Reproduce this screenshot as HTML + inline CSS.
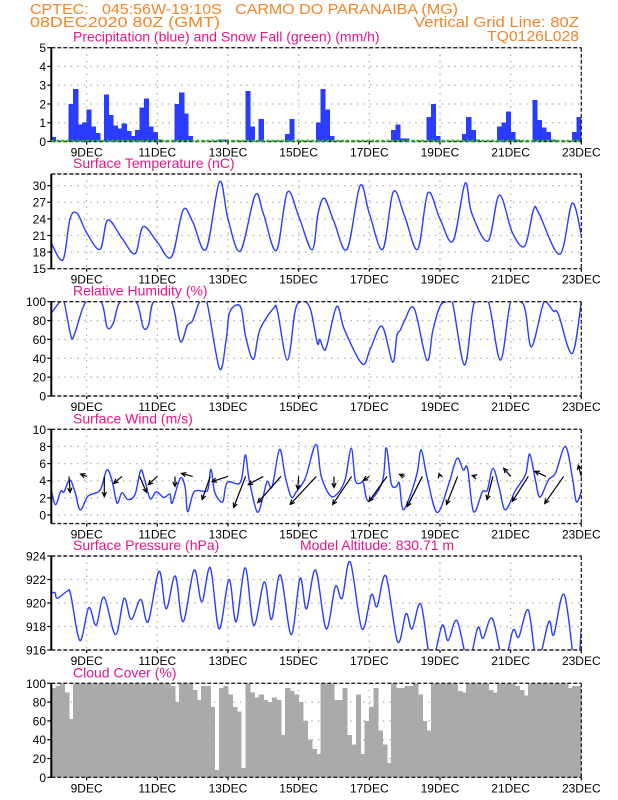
<!DOCTYPE html>
<html><head><meta charset="utf-8"><title>Meteogram</title>
<style>
html,body{margin:0;padding:0;background:#fff;width:618px;height:800px;overflow:hidden}
svg text{font-family:"Liberation Sans",sans-serif}
.pre{white-space:pre}
</style></head>
<body>
<svg id="chart" width="618" height="800" viewBox="0 0 618 800" xmlns="http://www.w3.org/2000/svg">
<g fill="#f0862a" font-size="15">
<text class="pre" x="30" y="14" textLength="428" lengthAdjust="spacingAndGlyphs">CPTEC:   045:56W-19:10S   CARMO DO PARANAIBA (MG)</text>
<text x="30" y="27" textLength="190" lengthAdjust="spacingAndGlyphs">08DEC2020 80Z (GMT)</text>
<text x="579" y="27" text-anchor="end" textLength="165" lengthAdjust="spacingAndGlyphs">Vertical Grid Line: 80Z</text>
<text x="579" y="41" text-anchor="end" textLength="92" lengthAdjust="spacingAndGlyphs">TQ0126L028</text>
</g>
<g id="panels"></g>
</svg>
<script>
// ---------------- data ----------------
const dateLabels = ["9DEC","11DEC","13DEC","15DEC","17DEC","19DEC","21DEC","23DEC"];
const dateTimes = [1,3,5,7,9,11,13,15];

const precipValues = [0.25,0,0,0,2.0,2.8,0.9,1.0,1.7,0.8,0.45,0,2.5,1.4,0.85,0.7,0.95,0.55,0.3,0.6,1.8,2.3,0.8,0.5,0.1,0,0,0,2.0,2.6,1.5,0.3,0,0,0,0,0,0,0.1,0.1,0,0,0,0,2.7,0.8,0,1.2,0,0,0,0,0,0.4,1.2,0,0,0,0,0,1.0,2.8,1.7,0.3,0,0,0,0,0,0,0,0,0,0,0,0,0,0.6,0.9,0.15,0.15,0,0,0,0,1.3,2.0,0.3,0,0,0,0,0,0.4,1.3,0.6,0.1,0,0,0,0,0.8,1.0,1.6,0.5,0.1,0,0,0,2.2,1.15,0.75,0.5,0.1,0.05,0,0,0,0.5,1.3];

const cloudValues = [95,97,100,90,62,100,100,100,100,100,100,100,100,100,100,100,100,100,100,100,100,100,100,100,100,100,100,97,80,100,100,100,93,82,97,97,75,8,95,97,88,75,70,10,100,90,85,88,82,80,85,82,45,95,92,88,80,60,40,30,25,100,100,100,82,82,95,45,35,88,25,60,75,95,50,35,15,100,95,95,97,97,100,88,60,50,100,100,100,100,100,100,92,90,100,100,100,100,100,93,90,100,100,100,100,97,93,87,100,100,100,100,100,100,100,100,100,95,97,97];

const tempT = [0,0.33,0.53,0.73,1.0,1.38,1.6,2.0,2.37,2.6,3.0,3.4,3.73,4.0,4.38,4.76,5.0,5.35,5.77,6.0,6.37,6.68,7.0,7.38,7.55,7.73,8.0,8.37,8.74,9.0,9.38,9.68,10.0,10.37,10.66,11.0,11.37,11.71,11.9,12.36,12.68,13.05,13.4,13.65,13.8,14.39,14.74,15];
const tempV = [19.6,16.6,24,25,21.5,18.5,23.8,20.5,17.7,22.6,19.8,17.1,25.6,23.5,18.5,30.7,24,18.2,28.3,25,18.3,28.8,24.5,18.4,25,27.7,23.5,18.5,30,25,18.5,28.9,24.5,18.5,28.7,24,20,30.4,25,20,28.3,21.5,19.1,25.7,25,17.6,26.8,21.1];

const rhT = [0,0.25,0.36,0.56,0.67,0.98,1.41,1.58,1.75,1.95,2.4,2.6,2.75,2.9,3.4,3.65,3.85,4.0,4.2,4.4,4.76,4.95,5.05,5.35,5.5,5.72,5.9,6.29,6.4,6.68,6.9,7.05,7.2,7.35,7.53,7.6,7.72,7.81,8.08,8.3,8.8,9.03,9.36,9.66,9.78,9.88,10.0,10.27,10.63,10.8,11.0,11.18,11.35,11.69,11.92,12.03,12.37,12.71,13.0,13.28,13.42,13.59,13.9,14.0,14.21,14.35,14.74,15];
const rhV = [88,100,100,63,67,100,100,73,77,100,100,73,75,100,100,58,75,80,100,100,29,60,89,95,63,39,70,93,90,38,90,100,100,90,56,60,49,55,95,70,34,50,74,36,64,70,80,93,38,70,95,100,100,33,90,100,100,38,100,100,90,52,95,100,90,87,45,100];

const windT = [0,0.12,0.27,0.36,0.52,0.67,0.82,1.04,1.38,1.57,1.72,1.86,2.0,2.17,2.37,2.53,2.65,2.8,2.97,3.19,3.36,3.42,3.65,3.79,3.86,4.04,4.35,4.44,4.52,4.61,4.72,4.86,4.98,5.35,5.49,5.6,5.82,5.97,6.11,6.25,6.46,6.62,6.79,6.93,7.19,7.49,7.64,7.9,8.12,8.32,8.49,8.6,8.74,8.83,8.98,9.37,9.48,9.62,9.76,9.85,9.95,10.16,10.36,10.47,10.64,10.92,11.24,11.48,11.66,11.78,11.95,12.2,12.34,12.5,12.68,12.85,13.14,13.42,13.54,13.7,13.83,14.07,14.27,14.55,14.75,14.86,15];
const windV = [2.9,1.2,2.8,2.7,4.1,2.7,0.6,2.2,2.9,5.25,4.0,1.4,2.6,1.8,2.4,5.2,4.0,1.9,2.7,2.05,2.45,1.4,4.3,3.2,0.4,2.7,2.75,3.1,5.35,2.9,1.9,1.6,3.8,3.8,7.0,4.1,0.4,1.75,3.9,3.3,7.65,4.5,2.1,2.7,4.3,8.25,4.5,2.25,2.6,4.2,7.8,4.1,3.7,3.8,1.6,3.9,7.85,3.7,3.3,3.7,0.66,2.3,5.05,7.6,4.3,0.3,3.5,6.6,5.25,5.45,0.4,2.7,2.9,5.45,3.1,0.6,2.9,4.7,7.1,4.1,2.1,4.1,4.9,8.0,4.3,1.55,2.7];

// wind vectors (m/s components), one every 12h starting at t=0.5
const vecU = [0.4,-2,0,-2.7,2.3,-3,0,-3.7,-2.7,-5.3,-4,-5,-7.7,-0.3,-8.7,0,-6.3,-2,-6,-1.7,-5,-0.3,-3.7,-1,-2,-2.3,-5.3,-3.7,-6.3,-1];
const vecV = [-5.3,0.8,-6.7,-2.3,-5.3,-2.7,-3.3,1,-7.7,-1.7,-10.3,-2.7,-8.7,-4.3,-9.3,-3.7,-9.3,-1.3,-8.3,0.7,-10,1,-9.3,0.3,-7.7,2.7,-8.3,1.7,-9,3.7];

const presT = [0,0.1,0.17,0.45,0.55,0.81,1.06,1.27,1.49,1.82,2.06,2.26,2.53,2.74,3.05,3.25,3.51,3.73,4.04,4.26,4.5,4.75,5.03,5.23,5.49,5.73,6.03,6.23,6.48,6.79,7.04,7.22,7.48,7.78,8.04,8.23,8.46,8.79,9.06,9.22,9.47,9.8,10.04,10.21,10.46,10.75,11.06,11.23,11.48,11.8,12.07,12.22,12.48,12.8,13.07,13.23,13.5,13.75,14.08,14.22,14.52,14.85,15];
const presV = [920.8,920.9,920.4,921,920.7,916.8,919.6,918.1,920.5,917.3,920.4,918.6,920.3,918.4,922.7,919.5,922.3,918.4,922.8,920.1,923.0,917.8,922.0,918.4,923,918.1,921.8,918.6,922.4,917.3,922.1,919.5,922.8,917.8,921.4,920.4,923.5,917.8,920.7,919.7,922.3,916.7,919.1,917.8,919.9,915,918.1,916.8,918.5,915,917.9,917.0,918.7,915,917.7,917.1,919.4,915,918.4,917.3,920.7,914,917.8];

const precipTicks = [0,1,2,3,4,5];
const tempTicks = [15,18,21,24,27,30];
const rhTicks = [0,20,40,60,80,100];
const windTicks = [0,2,4,6,8,10];
const presTicks = [916,918,920,922,924];
const cloudTicks = [0,20,40,60,80,100];

// ---------------- drawing ----------------
const NS = "http://www.w3.org/2000/svg";
const root = document.getElementById('panels');
const X0 = 51.3, X1 = 581.3, TMAX = 15;
const BLUE = "#2a3cff", PINK = "#e8148c";
function xOf(t){ return X0 + (t / TMAX) * (X1 - X0); }
function mk(tag, attrs, parent){
  const e = document.createElementNS(NS, tag);
  for (const k in attrs) e.setAttribute(k, attrs[k]);
  (parent || root).appendChild(e);
  return e;
}
function smoothPath(pts){
  let d = "M" + pts[0][0].toFixed(2) + "," + pts[0][1].toFixed(2);
  for (let i = 0; i < pts.length - 1; i++){
    const p0 = pts[Math.max(0, i - 1)], p1 = pts[i], p2 = pts[i + 1], p3 = pts[Math.min(pts.length - 1, i + 2)];
    const c1x = p1[0] + (p2[0] - p0[0]) / 6, c1y = p1[1] + (p2[1] - p0[1]) / 6;
    const c2x = p2[0] - (p3[0] - p1[0]) / 6, c2y = p2[1] - (p3[1] - p1[1]) / 6;
    d += "C" + c1x.toFixed(2) + "," + c1y.toFixed(2) + " " + c2x.toFixed(2) + "," + c2y.toFixed(2) + " " + p2[0].toFixed(2) + "," + p2[1].toFixed(2);
  }
  return d;
}

function panel(key, title, top, bottom, ymin, ymax, ticks){
  const g = mk('g', {});
  
  
  const yOf = v => bottom - (v - ymin) / (ymax - ymin) * (bottom - top);
  const clipId = 'clip-' + key;
  const cp = mk('clipPath', {id: clipId}, g);
  mk('rect', {x: X0, y: top, width: X1 - X0, height: bottom - top}, cp);
  const tt = mk('text', {x: 73, y: top - 6, fill: PINK, 'font-size': 14}, g);
  
  
  tt.textContent = title;
  const grid = mk('g', {stroke: '#b0b0b0', 'stroke-width': 1.3, 'stroke-dasharray': '1.5,5'}, g);
  
  
  dateTimes.forEach(t => { if (t < TMAX) mk('line', {x1: xOf(t), x2: xOf(t), y1: top, y2: bottom}, grid); });
  ticks.forEach(v => { const y = yOf(v); if (y > top + 1 && y < bottom - 1) mk('line', {x1: X0, x2: X1, y1: y, y2: y}, grid); });
  const yax = mk('g', {'font-size': 12, fill: '#000'}, g);
  
  
  ticks.forEach(v => {
    const y = yOf(v);
    mk('line', {x1: X0 - 4, x2: X0, y1: y, y2: y, stroke: '#000', 'stroke-width': 1.2}, yax);
    const lb = mk('text', {x: 46, y: y + 4.5, 'text-anchor': 'end'}, yax);
    
    
    lb.textContent = String(v);
  });
  const xax = mk('g', {'font-size': 12, fill: '#000'}, g);
  
  
  dateLabels.forEach((s, i) => {
    const x = xOf(dateTimes[i]);
    mk('line', {x1: x, x2: x, y1: bottom, y2: bottom + 3, stroke: '#000', 'stroke-width': 1.2}, xax);
    const lb = mk('text', {x: x, y: bottom + 15, 'text-anchor': 'middle'}, xax);
    
    
    lb.textContent = s;
  });
  const plot = mk('g', {'clip-path': 'url(#' + clipId + ')'}, g);
  
  
  const fr = mk('g', {}, g);
  
  
  mk('line', {x1: X0, x2: X1, y1: top, y2: top, stroke: '#222', 'stroke-width': 1.4, 'stroke-dasharray': '4,2'}, fr);
  mk('line', {x1: X0, x2: X1, y1: bottom, y2: bottom, stroke: '#222', 'stroke-width': 1.4, 'stroke-dasharray': '4,2'}, fr);
  mk('line', {x1: X0, x2: X0, y1: top, y2: bottom, stroke: '#000', 'stroke-width': 2}, fr);
  mk('line', {x1: X1, x2: X1, y1: top, y2: bottom, stroke: '#222', 'stroke-width': 1.3, 'stroke-dasharray': '4,2'}, fr);
  return {g, plot, yOf, top, bottom};
}

function bars(p, values, color, key){
  const w = (X1 - X0) / values.length;
  values.forEach((v, i) => {
    if (v <= 0) return;
    const y = p.yOf(v);
    const r = mk('rect', {x: xOf(i * TMAX / values.length) - 0.3, y: y, width: w + 0.8, height: p.yOf(0) - y, fill: color, 'shape-rendering': 'crispEdges'}, p.plot);
    
    
  });
}
function line(p, ts, vs, key){
  const pts = ts.map((t, i) => [xOf(t), p.yOf(vs[i])]);
  const path = mk('path', {d: smoothPath(pts), fill: 'none', stroke: BLUE, 'stroke-width': 1.4, 'stroke-linejoin': 'round'}, p.plot);
  
  
}

const pP = panel('precip', 'Precipitation (blue) and Snow Fall (green) (mm/h)', 47.7, 141.5, 0, 5, precipTicks);
bars(pP, precipValues, BLUE, 'precip');
const snow = mk('line', {x1: X0, x2: X1, y1: 140.8, y2: 140.8, stroke: '#22bb22', 'stroke-width': 2, 'stroke-dasharray': '3,2'}, pP.g);



const pT = panel('temperature', 'Surface Temperature (nC)', 174, 268.7, 15, 32.1, tempTicks);
line(pT, tempT, tempV, 'temperature');

const pR = panel('humidity', 'Relative Humidity (%)', 301.7, 396, 0, 100, rhTicks);
line(pR, rhT, rhV, 'humidity');

const pW = panel('wind', 'Surface Wind (m/s)', 429.3, 523.6, -1, 10, windTicks);
line(pW, windT, windV, 'wind-speed');
const VSC = 3, TAILV = 4.5;
vecU.forEach((u, i) => {
  const t = 0.5 * (i + 1);
  const x1 = xOf(t), y1 = pW.yOf(TAILV);
  const x2 = x1 + u * VSC, y2 = y1 - vecV[i] * VSC;
  const ag = mk('g', {stroke: '#000', 'stroke-width': 1.2, fill: 'none'}, pW.g);
  
  
  mk('line', {x1: x1, y1: y1, x2: x2, y2: y2}, ag);
  const ang = Math.atan2(y2 - y1, x2 - x1), hl = 5;
  const a1 = ang + Math.PI - 0.45, a2 = ang + Math.PI + 0.45;
  mk('path', {d: 'M' + (x2 + hl * Math.cos(a1)).toFixed(2) + ',' + (y2 + hl * Math.sin(a1)).toFixed(2) + 'L' + x2.toFixed(2) + ',' + y2.toFixed(2) + 'L' + (x2 + hl * Math.cos(a2)).toFixed(2) + ',' + (y2 + hl * Math.sin(a2)).toFixed(2)}, ag);
});

const pPr = panel('pressure', 'Surface Pressure (hPa)', 556, 650, 916, 924, presTicks);
line(pPr, presT, presV, 'pressure');
const alt = mk('text', {x: 300, y: 550, fill: PINK, 'font-size': 14}, pPr.g);


alt.textContent = 'Model Altitude: 830.71 m';

const pC = panel('cloud', 'Cloud Cover (%)', 683.3, 777.3, 0, 100, cloudTicks);
bars(pC, cloudValues, '#aaaaaa', 'cloud');
</script>
</body></html>
